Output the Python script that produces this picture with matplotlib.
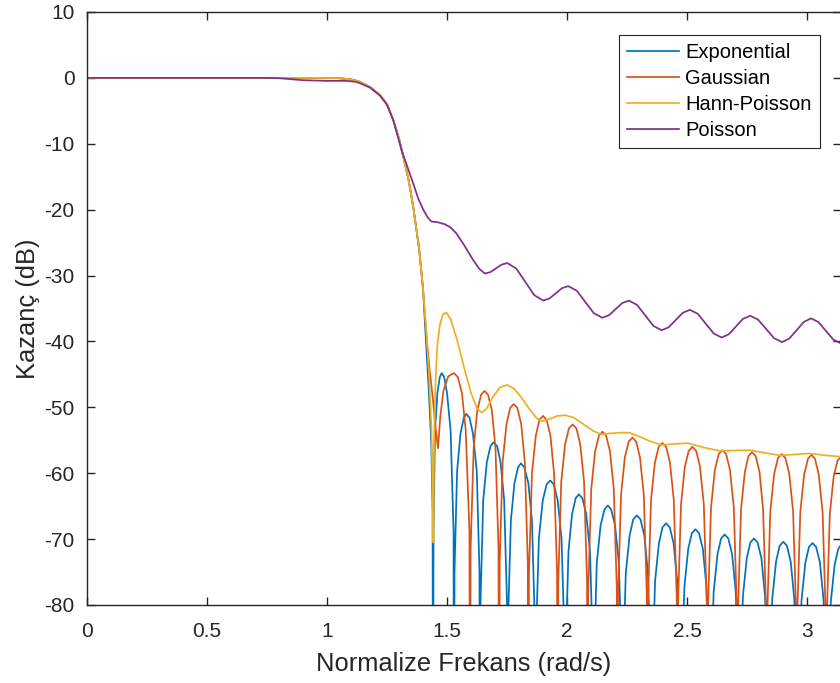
import numpy as np
import matplotlib
matplotlib.use("Agg")
from matplotlib import pyplot as plt

plt.rcParams['font.family'] = ['Liberation Sans', 'DejaVu Sans']
plt.rcParams['axes.unicode_minus'] = False

# pass band + roll-off shared by Exponential / Gaussian / Hann-Poisson
pass_x = [0, 0.25, 0.5, 0.75, 1.0, 1.05, 1.08, 1.11, 1.137, 1.18, 1.221, 1.25,
          1.276, 1.30, 1.318, 1.34, 1.359, 1.384, 1.40]
pass_y = [0, 0, 0, 0, 0, -0.05, -0.15, -0.3, -0.6, -1.4, -2.6, -4.0,
          -6.4, -9.2, -12.0, -15.5, -19.5, -26.0, -32.0]

# Exponential
exp_x = [1.414, 1.425, 1.435, 1.440,
         1.442, 1.4437, 1.450, 1.460, 1.470, 1.478, 1.488, 1.500, 1.515, 1.5273,
         1.529, 1.5312, 1.542, 1.556, 1.570, 1.580, 1.594, 1.608, 1.624, 1.6353,
         1.6375, 1.6398, 1.651, 1.666, 1.681, 1.694, 1.709, 1.723, 1.738, 1.7497,
         1.752, 1.7543, 1.766, 1.781, 1.796, 1.808, 1.822, 1.839, 1.854, 1.8657,
         1.868, 1.8705, 1.883, 1.899, 1.915, 1.930, 1.945, 1.961, 1.977, 1.9895,
         1.992, 1.9944, 2.006, 2.021, 2.036, 2.049, 2.064, 2.080, 2.096, 2.1076,
         2.110, 2.1124, 2.124, 2.140, 2.156, 2.170, 2.184, 2.200, 2.216, 2.2276,
         2.230, 2.2324, 2.245, 2.261, 2.276, 2.291, 2.306, 2.322, 2.337, 2.3496,
         2.352, 2.3544, 2.367, 2.383, 2.398, 2.413, 2.428, 2.444, 2.459, 2.4716,
         2.474, 2.4764, 2.489, 2.505, 2.520, 2.535, 2.550, 2.566, 2.581, 2.5936,
         2.596, 2.5984, 2.611, 2.627, 2.642, 2.657, 2.672, 2.688, 2.703, 2.7156,
         2.718, 2.7204, 2.733, 2.749, 2.764, 2.779, 2.794, 2.810, 2.825, 2.8376,
         2.840, 2.8424, 2.855, 2.871, 2.886, 2.901, 2.916, 2.932, 2.947, 2.9596,
         2.962, 2.9644, 2.977, 2.993, 3.008, 3.023, 3.038, 3.054, 3.069, 3.0816,
         3.084, 3.0864, 3.099, 3.115, 3.130, 3.1416]
exp_y = [-41.0, -48.0, -56.0, -66.0,
         -130, -68.8, -53.5, -47.8, -45.4, -44.8, -45.4, -47.8, -53.5, -68.8,
         -130, -75.0, -59.7, -54.0, -51.6, -51.0, -51.6, -54.0, -59.7, -75.0,
         -130, -79.3, -64.0, -58.3, -55.9, -55.3, -55.9, -58.3, -64.0, -79.3,
         -130, -82.5, -67.2, -61.5, -59.1, -58.5, -59.1, -61.5, -67.2, -82.5,
         -130, -85.1, -69.8, -64.1, -61.7, -61.1, -61.7, -64.1, -69.8, -85.1,
         -130, -87.2, -71.9, -66.2, -63.8, -63.2, -63.8, -66.2, -71.9, -87.2,
         -130, -88.9, -73.6, -67.9, -65.5, -64.9, -65.5, -67.9, -73.6, -88.9,
         -130, -90.4, -75.1, -69.4, -67.0, -66.4, -67.0, -69.4, -75.1, -90.4,
         -130, -91.6, -76.3, -70.6, -68.2, -67.6, -68.2, -70.6, -76.3, -91.6,
         -130, -92.5, -77.2, -71.5, -69.1, -68.5, -69.1, -71.5, -77.2, -92.5,
         -130, -93.3, -78.0, -72.3, -69.9, -69.3, -69.9, -72.3, -78.0, -93.3,
         -130, -93.9, -78.6, -72.9, -70.5, -69.9, -70.5, -72.9, -78.6, -93.9,
         -130, -94.4, -79.1, -73.4, -71.0, -70.4, -71.0, -73.4, -79.1, -94.4,
         -130, -94.6, -79.3, -73.6, -71.2, -70.6, -71.2, -73.6, -79.3, -94.6,
         -130, -94.9, -79.6, -73.9, -71.5, -70.9]

# Gaussian
gau_x = [1.414, 1.428, 1.442, 1.452, 1.4625, 1.472, 1.485, 1.505, 1.529,
         1.545, 1.562, 1.578, 1.5935,
         1.596, 1.5984, 1.611, 1.626, 1.642, 1.6565, 1.671, 1.687, 1.702, 1.7146,
         1.717, 1.7194, 1.732, 1.748, 1.763, 1.778, 1.793, 1.809, 1.824, 1.8366,
         1.839, 1.8414, 1.854, 1.870, 1.885, 1.900, 1.915, 1.931, 1.946, 1.9586,
         1.961, 1.9635, 1.976, 1.992, 2.008, 2.0235, 2.039, 2.055, 2.071, 2.0835,
         2.086, 2.0885, 2.101, 2.117, 2.133, 2.148, 2.163, 2.179, 2.195, 2.2075,
         2.210, 2.2125, 2.225, 2.241, 2.257, 2.2725, 2.288, 2.304, 2.320, 2.3325,
         2.335, 2.3375, 2.350, 2.366, 2.382, 2.3975, 2.413, 2.429, 2.445, 2.4575,
         2.460, 2.4625, 2.475, 2.491, 2.507, 2.5225, 2.538, 2.554, 2.570, 2.5825,
         2.585, 2.5875, 2.600, 2.616, 2.632, 2.6475, 2.663, 2.679, 2.695, 2.7075,
         2.710, 2.7124, 2.725, 2.741, 2.756, 2.771, 2.786, 2.802, 2.817, 2.8296,
         2.832, 2.8345, 2.847, 2.863, 2.879, 2.8945, 2.910, 2.926, 2.942, 2.9545,
         2.957, 2.9595, 2.972, 2.988, 3.004, 3.0185, 3.033, 3.049, 3.065, 3.0775,
         3.080, 3.0825, 3.095, 3.111, 3.127, 3.1416]
gau_y = [-39.0, -44.5, -49.0, -53.0, -56.2, -51.4, -47.5, -45.3, -44.8,
         -45.4, -47.8, -53.5, -68.8,
         -130, -71.5, -56.2, -50.5, -48.1, -47.5, -48.1, -50.5, -56.2, -71.5,
         -130, -73.5, -58.2, -52.5, -50.1, -49.5, -50.1, -52.5, -58.2, -73.5,
         -130, -75.3, -60.0, -54.3, -51.9, -51.3, -51.9, -54.3, -60.0, -75.3,
         -130, -76.6, -61.3, -55.6, -53.2, -52.6, -53.2, -55.6, -61.3, -76.6,
         -130, -77.7, -62.4, -56.7, -54.3, -53.7, -54.3, -56.7, -62.4, -77.7,
         -130, -78.6, -63.3, -57.6, -55.2, -54.6, -55.2, -57.6, -63.3, -78.6,
         -130, -79.4, -64.1, -58.4, -56.0, -55.4, -56.0, -58.4, -64.1, -79.4,
         -130, -80.0, -64.7, -59.0, -56.6, -56.0, -56.6, -59.0, -64.7, -80.0,
         -130, -80.5, -65.2, -59.5, -57.1, -56.5, -57.1, -59.5, -65.2, -80.5,
         -130, -80.8, -65.5, -59.8, -57.4, -56.8, -57.4, -59.8, -65.5, -80.8,
         -130, -81.1, -65.8, -60.1, -57.7, -57.1, -57.7, -60.1, -65.8, -81.1,
         -130, -81.2, -65.9, -60.2, -57.8, -57.2, -57.8, -60.2, -65.9, -81.2,
         -130, -81.5, -66.2, -60.5, -58.1, -57.5]

# Hann-Poisson
hp_x = [1.414, 1.425, 1.435, 1.440, 1.443, 1.446, 1.452, 1.460, 1.470, 1.483,
        1.497, 1.515, 1.540, 1.570, 1.600, 1.625, 1.644, 1.665, 1.690, 1.720,
        1.751, 1.780, 1.810, 1.846, 1.875, 1.897, 1.925, 1.960, 1.993, 2.030,
        2.070, 2.110, 2.143, 2.180, 2.220, 2.260, 2.300, 2.350, 2.393, 2.450,
        2.505, 2.570, 2.636, 2.700, 2.763, 2.830, 2.888, 2.950, 3.013, 3.080,
        3.1416]
hp_y = [-38.5, -45.0, -53.0, -62.0, -70.5, -55.0, -46.0, -40.5, -37.5, -35.9,
        -35.6, -36.6, -39.5, -43.8, -47.8, -50.2, -50.8, -50.2, -48.5, -47.0,
        -46.6, -47.2, -48.5, -50.4, -51.7, -52.1, -51.8, -51.3, -51.2, -51.6,
        -52.6, -53.6, -54.1, -53.95, -53.85, -53.85, -54.4, -55.2, -55.7, -55.55,
        -55.45, -56.1, -56.6, -56.55, -56.5, -56.95, -57.3, -57.15, -57.0, -57.3,
        -57.5]

# Poisson
poi_x = [0, 0.25, 0.5, 0.75, 0.8, 0.9, 1.0, 1.08, 1.12, 1.137, 1.18, 1.221,
         1.25, 1.276, 1.31, 1.335, 1.359, 1.38, 1.401, 1.42, 1.435, 1.46,
         1.49, 1.515, 1.539, 1.57, 1.608, 1.635, 1.658, 1.681, 1.7045, 1.728,
         1.751, 1.7885, 1.826, 1.8635, 1.901, 1.927, 1.953, 1.979, 2.005,
         2.0405, 2.076, 2.1115, 2.147, 2.175, 2.2025, 2.230, 2.258, 2.292,
         2.326, 2.360, 2.394, 2.4235, 2.453, 2.4825, 2.512, 2.545, 2.578,
         2.611, 2.644, 2.674, 2.7035, 2.733, 2.763, 2.796, 2.8295, 2.863,
         2.896, 2.926, 2.9565, 2.987, 3.017, 3.048, 3.079, 3.110, 3.1416]
poi_y = [0, 0, 0, 0, -0.05, -0.35, -0.45, -0.45, -0.6, -0.8, -1.5, -2.7,
         -4.1, -6.4, -10.9, -13.5, -16.0, -18.3, -20.0, -21.2, -21.8, -21.9,
         -22.2, -22.7, -23.6, -25.3, -27.6, -29.0, -29.7, -29.47, -28.9, -28.33,
         -28.1, -28.93, -30.95, -32.97, -33.8, -33.48, -32.7, -31.92, -31.6,
         -32.3, -34.0, -35.7, -36.4, -36.02, -35.1, -34.18, -33.8, -34.46,
         -36.05, -37.64, -38.3, -37.85, -36.75, -35.65, -35.2, -35.81, -37.3,
         -38.79, -39.4, -38.92, -37.75, -36.58, -36.1, -36.69, -38.1, -39.51,
         -40.1, -39.57, -38.3, -37.03, -36.5, -37.06, -38.4, -39.74, -40.3]

names = ["Exponential", "Gaussian", "Hann-Poisson", "Poisson"]
colors = ["#0072BD", "#D95319", "#EDB120", "#7E2F8E"]

fig = plt.figure(figsize=(8.4, 6.83), dpi=100)
ax = fig.add_axes([87 / 840, 1 - 605 / 683, 754 / 840, 593 / 683])

lw = 1.25
ax.plot(pass_x + exp_x, pass_y + exp_y, color=colors[0], lw=lw, label=names[0])
ax.plot(pass_x + gau_x, pass_y + gau_y, color=colors[1], lw=lw, label=names[1])
ax.plot(pass_x + hp_x, pass_y + hp_y, color=colors[2], lw=lw, label=names[2])
ax.plot(poi_x, poi_y, color=colors[3], lw=lw, label=names[3])

ax.set_xlim(0, np.pi)
ax.set_ylim(-80, 10)
ax.set_xticks([0, 0.5, 1, 1.5, 2, 2.5, 3])
ax.set_xticklabels(["0", "0.5", "1", "1.5", "2", "2.5", "3"])
ax.set_yticks(np.arange(-80, 11, 10))
ax.tick_params(direction='in', top=True, right=True, length=6, width=1,
               labelsize=15, colors='#262626', labelcolor='#262626')
ax.tick_params(axis='x', pad=12)
ax.tick_params(axis='y', pad=9)
for s in ax.spines.values():
    s.set_color('#262626')
    s.set_linewidth(1.0)

ax.set_xlabel("Normalize Frekans (rad/s)", fontsize=18.4, color='#262626', labelpad=8)
ax.set_ylabel("Kazanç (dB)", fontsize=18.4, color='#262626', labelpad=3)

leg = ax.legend(loc='upper right', bbox_to_anchor=(0.972, 0.962), fontsize=14.5,
                frameon=True, fancybox=False, framealpha=1, edgecolor='#262626',
                handlelength=2.6, handletextpad=0.3, labelspacing=0.36,
                borderpad=0.4, borderaxespad=0)
leg.get_frame().set_linewidth(0.8)

plt.savefig("out.png", dpi=100)
